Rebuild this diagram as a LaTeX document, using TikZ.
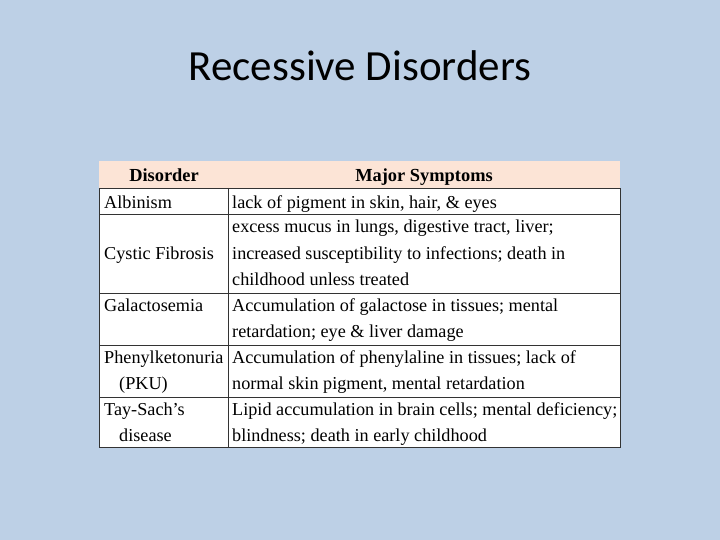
\documentclass[tikz,border=0pt]{standalone}
\usepackage{fontspec}
\setmainfont[Ligatures=NoCommon]{Liberation Serif}
\newfontfamily\titlefont{Carlito}
\definecolor{bg}{HTML}{BDD0E6}
\definecolor{peach}{HTML}{FCE4D6}
\tikzset{txt/.style={anchor=base west,inner sep=0pt,font=\fontsize{18.2}{20}\selectfont},
 hdr/.style={anchor=base,inner sep=0pt,font=\fontsize{18.4}{20}\selectfont\bfseries},
 rule/.style={line width=0.8pt,black!80}}
\begin{document}
\begin{tikzpicture}[x=1pt,y=-1pt]
\fill[bg] (0,0) rectangle (720,540);
\useasboundingbox (0,0) rectangle (720,540);
\node[inner sep=0pt,anchor=base,font=\titlefont\fontsize{43}{46}\selectfont] (title) at (360,81) {Recessive Disorders};
\fill[white] (99,188) rectangle (620,447);
\fill[peach] (99,161) rectangle (620,188);
\draw[rule] (99,188) rectangle (620,447);
\foreach \y in {214,293,345,397} \draw[rule] (99,\y) -- (620,\y);
\draw[rule] (228,188) -- (228,447);
\node[hdr] (h1) at (164,182) {Disorder};
\node[hdr] (h2) at (424,182) {Major Symptoms};
\node[txt] (a1) at (104,208) {Albinism};
\node[txt] (b1) at (232,208) {lack of pigment in skin, hair, \& eyes};
\node[txt] (a2) at (104,259) {Cystic Fibrosis};
\node[txt] (b2a) at (232,233) {excess mucus in lungs, digestive tract, liver;};
\node[txt] (b2b) at (232,259) {increased susceptibility to infections; death in};
\node[txt] (b2c) at (232,285) {childhood unless treated};
\node[txt] (a3) at (104,311) {Galactosemia};
\node[txt] (b3a) at (232,311) {Accumulation of galactose in tissues; mental};
\node[txt] (b3b) at (232,337) {retardation; eye \& liver damage};
\node[txt] (a4a) at (104,363) {Phenylketonuria};
\node[txt] (a4b) at (119,389) {(PKU)};
\node[txt] (b4a) at (232,363) {Accumulation of phenylaline in tissues; lack of};
\node[txt] (b4b) at (232,389) {normal skin pigment, mental retardation};
\node[txt] (a5a) at (104,415) {Tay-Sach\symbol{39}s};
\node[txt] (a5b) at (119,441) {disease};
\node[txt] (b5a) at (232,415) {Lipid accumulation in brain cells; mental deficiency;};
\node[txt] (b5b) at (232,441) {blindness; death in early childhood};
\end{tikzpicture}
\end{document}
